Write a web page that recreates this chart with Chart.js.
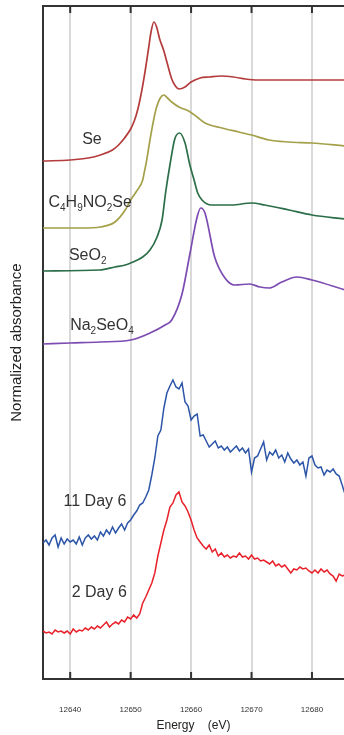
<!DOCTYPE html>
<html>
<head>
<meta charset="utf-8">
<script src="https://cdn.jsdelivr.net/npm/chart.js@4"></script>
<style>
  html, body { margin: 0; padding: 0; background: #fff; }
</style>
</head>
<body>
<canvas id="xanesChart" width="344" height="735"></canvas>
<script>
// Achsenwerte
const tickEnergies = [12640, 12650, 12660, 12670, 12680];

// Referenzspektren (glatt), Energie in eV, Werte mit Versatz gestapelt
const seEnergy = [12635.5, 12640, 12643, 12645, 12647, 12648, 12649, 12650, 12650.6, 12651.2, 12651.8, 12652.4, 12653, 12653.4, 12653.85, 12654.3, 12654.8, 12655.5, 12656, 12656.8, 12657.4, 12658, 12659, 12660, 12661.5, 12663, 12665, 12667, 12669, 12671, 12675, 12680, 12685.5];
const seValues = [5.18, 5.19, 5.21, 5.24, 5.29, 5.34, 5.41, 5.50, 5.58, 5.70, 5.87, 6.08, 6.32, 6.48, 6.57, 6.52, 6.40, 6.28, 6.17, 6.00, 5.93, 5.90, 5.92, 5.97, 6.01, 6.02, 6.03, 6.02, 6.00, 5.99, 5.99, 5.99, 5.99];

const selenoEnergy = [12635.5, 12642, 12645, 12647.4, 12649.1, 12650, 12651, 12652, 12652.3, 12652.6, 12653.2, 12653.8, 12654.3, 12654.9, 12655.5, 12656.1, 12656.8, 12658, 12659.6, 12661, 12662.3, 12665.1, 12667.9, 12670, 12672.9, 12676.2, 12680, 12685.5];
const selenoValues = [4.51, 4.51, 4.52, 4.57, 4.69, 4.79, 4.88, 4.99, 5.08, 5.17, 5.39, 5.59, 5.72, 5.81, 5.84, 5.81, 5.77, 5.72, 5.68, 5.62, 5.56, 5.51, 5.47, 5.44, 5.39, 5.37, 5.36, 5.33];

const seo2Energy = [12635.5, 12644.9, 12647.4, 12649.1, 12650, 12652, 12653.2, 12654.3, 12655.2, 12655.8, 12656.5, 12657.3, 12658.1, 12659, 12659.8, 12660.5, 12661.1, 12661.8, 12663.4, 12666.7, 12670, 12672.2, 12676.2, 12680, 12685.5];
const seo2Values = [4.08, 4.09, 4.12, 4.14, 4.16, 4.22, 4.29, 4.41, 4.59, 4.87, 5.14, 5.40, 5.46, 5.36, 5.14, 4.99, 4.86, 4.79, 4.74, 4.74, 4.76, 4.74, 4.69, 4.64, 4.60];

const na2seo4Energy = [12635.5, 12640, 12644.9, 12650, 12653.2, 12655.7, 12656.8, 12658.5, 12659.8, 12661, 12661.6, 12662.3, 12663.9, 12665.6, 12667.2, 12669.7, 12671.4, 12672.9, 12675, 12677.5, 12680, 12685.5];
const na2seo4Values = [3.35, 3.36, 3.37, 3.39, 3.46, 3.54, 3.59, 3.85, 4.25, 4.62, 4.71, 4.66, 4.22, 4.01, 3.94, 3.95, 3.92, 3.91, 3.97, 4.02, 3.99, 3.89];

// Proben (verrauscht), gemeinsames Energieraster
const probeEnergy = [
  12635.5, 12636, 12636.5, 12637, 12637.5, 12638, 12638.5, 12639, 12639.5, 12640,
  12640.5, 12641, 12641.5, 12642, 12642.5, 12643, 12643.5, 12644, 12644.5, 12645,
  12645.5, 12646, 12646.5, 12647, 12647.5, 12648, 12648.5, 12649, 12649.5, 12650,
  12650.5, 12651, 12651.5, 12652, 12652.5, 12653, 12653.5, 12654, 12654.5, 12655,
  12655.5, 12656, 12656.5, 12657, 12657.5, 12658, 12658.5, 12659, 12659.5, 12660,
  12660.5, 12661, 12661.5, 12662, 12662.5, 12663, 12663.5, 12664, 12664.5, 12665,
  12665.5, 12666, 12666.5, 12667, 12667.5, 12668, 12668.5, 12669, 12669.5, 12670,
  12670.5, 12671, 12671.5, 12672, 12672.5, 12673, 12673.5, 12674, 12674.5, 12675,
  12675.5, 12676, 12676.5, 12677, 12677.5, 12678, 12678.5, 12679, 12679.5, 12680,
  12680.5, 12681, 12681.5, 12682, 12682.5, 12683, 12683.5, 12684, 12684.5, 12685,
  12685.5
];
const probe11Values = [
  1.36, 1.39, 1.34, 1.41, 1.44, 1.32, 1.41, 1.35, 1.40, 1.37,
  1.39, 1.35, 1.42, 1.34, 1.41, 1.44, 1.40, 1.43, 1.39, 1.47,
  1.43, 1.49, 1.45, 1.52, 1.46, 1.51, 1.55, 1.49, 1.56, 1.59,
  1.64, 1.68, 1.74, 1.76, 1.82, 1.89, 2.04, 2.21, 2.43, 2.49,
  2.71, 2.86, 2.93, 2.99, 2.92, 2.90, 2.96, 2.77, 2.73, 2.59,
  2.63, 2.65, 2.43, 2.44, 2.38, 2.32, 2.35, 2.38, 2.31, 2.33,
  2.29, 2.32, 2.27, 2.30, 2.33, 2.28, 2.31, 2.26, 2.30, 2.07,
  2.21, 2.23, 2.30, 2.37, 2.19, 2.27, 2.24, 2.29, 2.21, 2.24,
  2.17, 2.26, 2.20, 2.16, 2.19, 2.14, 2.17, 2.03, 2.21, 2.23,
  2.14, 2.11, 2.12, 2.04, 2.09, 2.07, 2.10, 2.05, 2.03, 1.94,
  1.84
];
const probe2Values = [
  0.48, 0.46, 0.47, 0.45, 0.49, 0.47, 0.48, 0.46, 0.48, 0.45,
  0.50, 0.47, 0.49, 0.48, 0.51, 0.49, 0.52, 0.50, 0.53, 0.51,
  0.54, 0.57, 0.52, 0.55, 0.57, 0.55, 0.59, 0.57, 0.62, 0.60,
  0.64, 0.61, 0.65, 0.76, 0.82, 0.89, 0.96, 1.06, 1.23, 1.36,
  1.49, 1.59, 1.72, 1.76, 1.84, 1.87, 1.77, 1.73, 1.67, 1.59,
  1.49, 1.41, 1.37, 1.33, 1.30, 1.34, 1.27, 1.30, 1.23, 1.26,
  1.22, 1.24, 1.21, 1.23, 1.22, 1.26, 1.22, 1.23, 1.20, 1.24,
  1.20, 1.21, 1.18, 1.19, 1.17, 1.15, 1.18, 1.13, 1.15, 1.12,
  1.14, 1.10, 1.06, 1.10, 1.09, 1.12, 1.10, 1.11, 1.08, 1.06,
  1.09, 1.06, 1.10, 1.07, 1.09, 1.05, 1.03, 0.98, 1.05, 1.03,
  1.04
];

// Beschriftungen der Kurven: Text (_n = tiefgestellt), Energie, Wert
const kurvenNamen = ['Se', 'C_4H_9NO_2Se', 'SeO_2', 'Na_2SeO_4', '11 Day 6', '2 Day 6'];
const namenEnergie = [12643.6, 12643.3, 12642.9, 12645.25, 12644.1, 12644.8];
const namenWert = [5.39, 4.76, 4.23, 3.53, 1.77, 0.86];

const schrift = "'Liberation Sans', Arial, Helvetica, sans-serif";

function punkte(xs, ys) {
  return xs.map((x, i) => ({ x: x, y: ys[i] }));
}

function glatt(label, xs, ys, farbe) {
  return {
    label: label,
    data: punkte(xs, ys),
    borderColor: farbe,
    borderWidth: 1.7,
    pointRadius: 0,
    cubicInterpolationMode: 'monotone',
    fill: false
  };
}

function rauschig(label, xs, ys, farbe) {
  return {
    label: label,
    data: punkte(xs, ys),
    borderColor: farbe,
    borderWidth: 1.5,
    pointRadius: 0,
    tension: 0,
    fill: false
  };
}

// Formel mit Tiefstellung zentriert zeichnen
function zeichneFormel(ctx, text, cx, cy) {
  const teile = text.split(/_(\d)/);
  const gross = '16px ' + schrift;
  const klein = '10px ' + schrift;
  let breite = 0;
  teile.forEach((t, i) => {
    ctx.font = (i % 2) ? klein : gross;
    breite += ctx.measureText(t).width;
  });
  let x = cx - breite / 2;
  ctx.textAlign = 'left';
  ctx.textBaseline = 'middle';
  teile.forEach((t, i) => {
    ctx.font = (i % 2) ? klein : gross;
    ctx.fillText(t, x, (i % 2) ? cy + 5 : cy);
    x += ctx.measureText(t).width;
  });
}

const rahmenPlugin = {
  id: 'rahmen',
  afterDraw(chart) {
    const { ctx, chartArea: a, scales: { x, y } } = chart;
    ctx.save();
    ctx.strokeStyle = '#333';
    ctx.lineWidth = 2;
    ctx.beginPath();
    ctx.moveTo(a.left - 1, a.top);
    ctx.lineTo(a.right, a.top);
    ctx.stroke();
    tickEnergies.forEach(e => {
      const px = x.getPixelForValue(e);
      ctx.beginPath();
      ctx.moveTo(px, a.top);
      ctx.lineTo(px, a.top + 7);
      ctx.moveTo(px, a.bottom);
      ctx.lineTo(px, a.bottom - 7);
      ctx.stroke();
    });
    ctx.fillStyle = '#333';
    kurvenNamen.forEach((n, i) => {
      zeichneFormel(ctx, n, x.getPixelForValue(namenEnergie[i]), y.getPixelForValue(namenWert[i]));
    });
    ctx.restore();
  }
};

const ctx = document.getElementById('xanesChart').getContext('2d');
new Chart(ctx, {
  type: 'line',
  data: {
    datasets: [
      glatt('Se', seEnergy, seValues, '#b43c3c'),
      glatt('C4H9NO2Se', selenoEnergy, selenoValues, '#a4a04a'),
      glatt('SeO2', seo2Energy, seo2Values, '#2b6e48'),
      glatt('Na2SeO4', na2seo4Energy, na2seo4Values, '#7c4cb2'),
      rauschig('11 Day 6', probeEnergy, probe11Values, '#2c55a8'),
      rauschig('2 Day 6', probeEnergy, probe2Values, '#e8212a')
    ]
  },
  options: {
    responsive: false,
    animation: false,
    devicePixelRatio: 1,
    layout: { padding: { top: 6, right: 0, bottom: 0, left: 0 } },
    plugins: {
      legend: { display: false },
      tooltip: { enabled: false }
    },
    scales: {
      x: {
        type: 'linear',
        min: 12635.5,
        max: 12685.3,
        afterBuildTicks: (scale) => { scale.ticks = tickEnergies.map(v => ({ value: v })); },
        afterFit: (scale) => {
          scale.height = 56;
          scale.paddingLeft = 0;
          scale.paddingRight = 0;
        },
        grid: { color: '#d9d9d9', lineWidth: 2, drawTicks: false },
        border: { display: true, color: '#333', width: 2 },
        ticks: {
          padding: 26,
          color: '#333',
          font: { size: 8, family: schrift },
          callback: (v) => String(v),
          maxRotation: 0
        },
        title: {
          display: true,
          text: 'Energy    (eV)',
          color: '#222',
          font: { size: 12, family: schrift },
          padding: { top: 0, bottom: 2 }
        }
      },
      y: {
        type: 'linear',
        min: 0,
        max: 6.73,
        afterFit: (scale) => {
          scale.width = 43;
          scale.paddingTop = 0;
          scale.paddingBottom = 0;
        },
        grid: { display: false },
        border: { display: true, color: '#333', width: 2 },
        ticks: { display: false },
        title: {
          display: true,
          text: 'Normalized absorbance',
          color: '#222',
          font: { size: 15, family: schrift },
          padding: { top: 8, bottom: 0 }
        }
      }
    }
  },
  plugins: [rahmenPlugin]
});
</script>
</body>
</html>
